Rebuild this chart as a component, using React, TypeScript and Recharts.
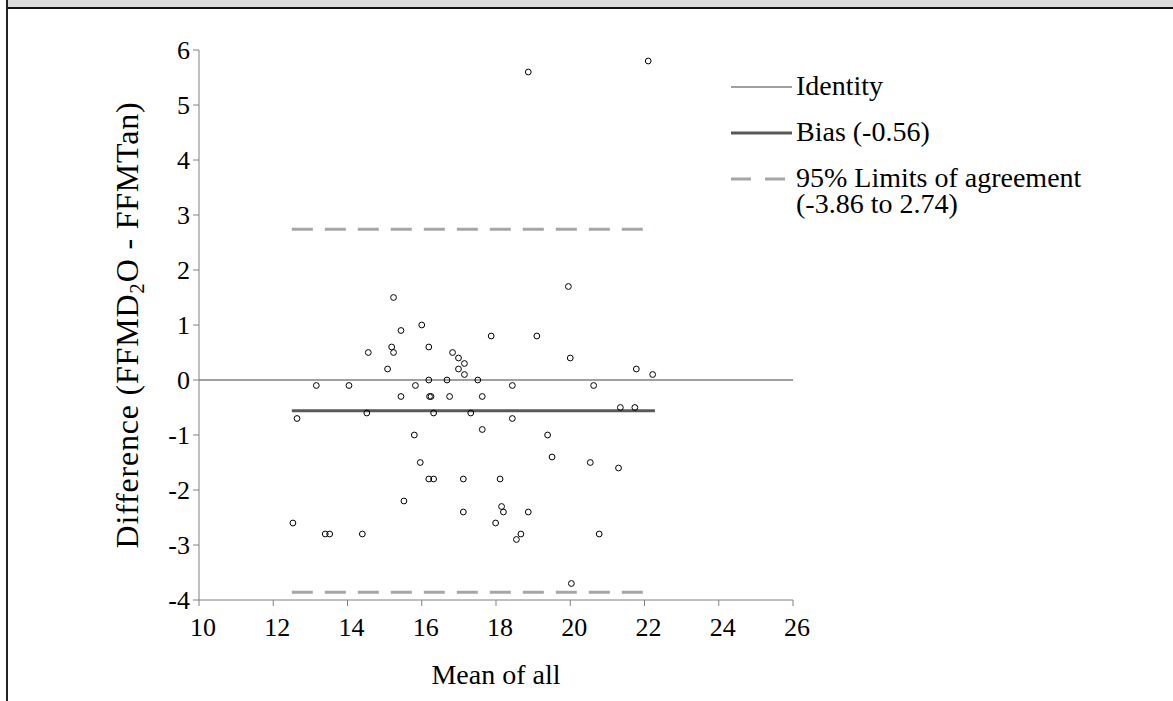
import React from "react";
import { ReferenceLine, Scatter, ScatterChart, XAxis, YAxis, Legend } from "recharts";

// mean of all (x) and difference FFMD2O - FFMTan (y)
const meanValues = [
  15.44, 16.0, 17.87, 19.1, 15.19, 14.56, 15.24, 16.19, 16.83, 16.99,
  17.15, 16.99, 17.15, 15.08, 16.19, 16.68, 17.51, 13.16, 14.04, 15.83,
  18.44, 15.44, 16.21, 16.25, 16.75, 17.63, 14.52, 16.32, 17.32, 12.64,
  18.44, 17.63, 15.8, 15.96, 16.19, 16.32, 17.12, 18.11, 15.52, 17.12,
  18.15, 18.2, 18.87, 12.53, 13.4, 13.52, 14.4, 17.99, 18.67, 18.55,
  20.0, 21.78, 22.22, 20.63, 21.35, 21.74, 19.39, 19.51, 20.54, 21.3,
  20.78, 20.03, 18.87, 22.1, 19.95, 15.24,
];
const diffValues = [
  0.9, 1.0, 0.8, 0.8, 0.6, 0.5, 0.5, 0.6, 0.5, 0.4,
  0.3, 0.2, 0.1, 0.2, 0, 0, 0, -0.1, -0.1, -0.1,
  -0.1, -0.3, -0.3, -0.3, -0.3, -0.3, -0.6, -0.6, -0.6, -0.7,
  -0.7, -0.9, -1.0, -1.5, -1.8, -1.8, -1.8, -1.8, -2.2, -2.4,
  -2.3, -2.4, -2.4, -2.6, -2.8, -2.8, -2.8, -2.6, -2.8, -2.9,
  0.4, 0.2, 0.1, -0.1, -0.5, -0.5, -1.0, -1.4, -1.5, -1.6,
  -2.8, -3.7, 5.6, 5.8, 1.7, 1.5,
];

const bias = -0.56;
const lowerLimit = -3.86;
const upperLimit = 2.74;
const lineRange = [12.5, 22.28]; // span of the bias / limit lines

const xTicks = [10, 12, 14, 16, 18, 20, 22, 24, 26];
const yTicks = [-4, -3, -2, -1, 0, 1, 2, 3, 4, 5, 6];

const legendItems = [
  { label: ["Identity"], stroke: "#808080", width: 1.5, dash: undefined },
  { label: ["Bias (-0.56)"], stroke: "#595959", width: 3, dash: undefined },
  { label: ["95% Limits of agreement", "(-3.86 to 2.74)"], stroke: "#a6a6a6", width: 3, dash: "20 14" },
];

const font = "'Liberation Serif', 'Times New Roman', serif";

const points = meanValues.map((x, i) => ({ x, y: diffValues[i] }));

function Dot(props: any) {
  const { cx, cy } = props;
  if (cx == null || cy == null) return null;
  return <circle cx={cx} cy={cy} r={2.9} fill="none" stroke="#000" strokeWidth={1} />;
}

function XTick(props: any) {
  const { x, y, payload } = props;
  return (
    <text x={x + 4} y={y + 24} textAnchor="middle" fontFamily={font} fontSize={26} fill="#000">
      {payload.value}
    </text>
  );
}

function YTick(props: any) {
  const { x, y, payload } = props;
  return (
    <text x={x} y={y + 9} textAnchor="end" fontFamily={font} fontSize={26} fill="#000">
      {payload.value}
    </text>
  );
}

function YLabel(props: any) {
  const vb = props.viewBox || { x: 0, y: 0, width: 0, height: 0 };
  const cx = vb.x + 29;
  const cy = vb.y + vb.height / 2;
  return (
    <text
      x={cx}
      y={cy}
      transform={`rotate(-90, ${cx}, ${cy})`}
      textAnchor="middle"
      fontFamily={font}
      fontSize={32}
      letterSpacing={0.8}
      fill="#000"
    >
      Difference (FFMD
      <tspan dy={6} fontSize={21}>2</tspan>
      <tspan dy={-6}>O - FFMTan)</tspan>
    </text>
  );
}

function LegendBox() {
  return (
    <svg width={420} height={170}>
      {legendItems.map((it, i) => {
        const y = 17 + i * 46;
        return (
          <g key={i}>
            <line x1={0} x2={61} y1={y} y2={y} stroke={it.stroke} strokeWidth={it.width} strokeDasharray={it.dash} />
            {it.label.map((t, j) => (
              <text key={j} x={65} y={y + 8 + j * 26} fontFamily={font} fontSize={28} fill="#000">
                {t}
              </text>
            ))}
          </g>
        );
      })}
    </svg>
  );
}

export default function App() {
  return (
    <div style={{ position: "absolute", left: 0, top: 0, width: 1173, height: 701, background: "#fff", overflow: "hidden" }}>
      <div style={{ position: "absolute", left: 7, top: 0, width: 1166, height: 7, background: "#dcdcdc" }} />
      <div style={{ position: "absolute", left: 6, top: 7, width: 1167, height: 2, background: "#111" }} />
      <div style={{ position: "absolute", left: 6, top: 0, width: 1.5, height: 701, background: "#222" }} />
      <div style={{ position: "absolute", left: 0, top: 0 }}>
        <ScatterChart width={1173} height={701} margin={{ top: 50, right: 380, bottom: 11, left: 109 }}>
          <XAxis
            type="number"
            dataKey="x"
            domain={[10, 26]}
            ticks={xTicks}
            allowDataOverflow
            height={90}
            stroke="#808080"
            tickSize={6}
            tickMargin={6}
            tick={<XTick />}
            label={{ value: "Mean of all", position: "insideBottom", offset: 6, fill: "#000", fontSize: 28, fontFamily: font }}
          />
          <YAxis
            type="number"
            dataKey="y"
            domain={[-4, 6]}
            ticks={yTicks}
            allowDataOverflow
            width={90}
            stroke="#808080"
            tickSize={6}
            tickMargin={3}
            tick={<YTick />}
            label={<YLabel />}
          />
          <ReferenceLine y={0} stroke="#808080" strokeWidth={1.5} />
          <ReferenceLine
            segment={[{ x: lineRange[0], y: upperLimit }, { x: lineRange[1], y: upperLimit }]}
            stroke="#a6a6a6"
            strokeWidth={3}
            strokeDasharray="21 12"
          />
          <ReferenceLine
            segment={[{ x: lineRange[0], y: lowerLimit }, { x: lineRange[1], y: lowerLimit }]}
            stroke="#a6a6a6"
            strokeWidth={3}
            strokeDasharray="21 12"
          />
          <ReferenceLine
            segment={[{ x: lineRange[0], y: bias }, { x: lineRange[1], y: bias }]}
            stroke="#595959"
            strokeWidth={3}
          />
          <Scatter data={points} shape={<Dot />} isAnimationActive={false} legendType="none" />
          <Legend
            layout="vertical"
            align="center"
            verticalAlign="middle"
            content={() => <LegendBox />}
            wrapperStyle={{ position: "absolute", left: 731, top: 70, width: 420, height: 170 }}
          />
        </ScatterChart>
      </div>
    </div>
  );
}
